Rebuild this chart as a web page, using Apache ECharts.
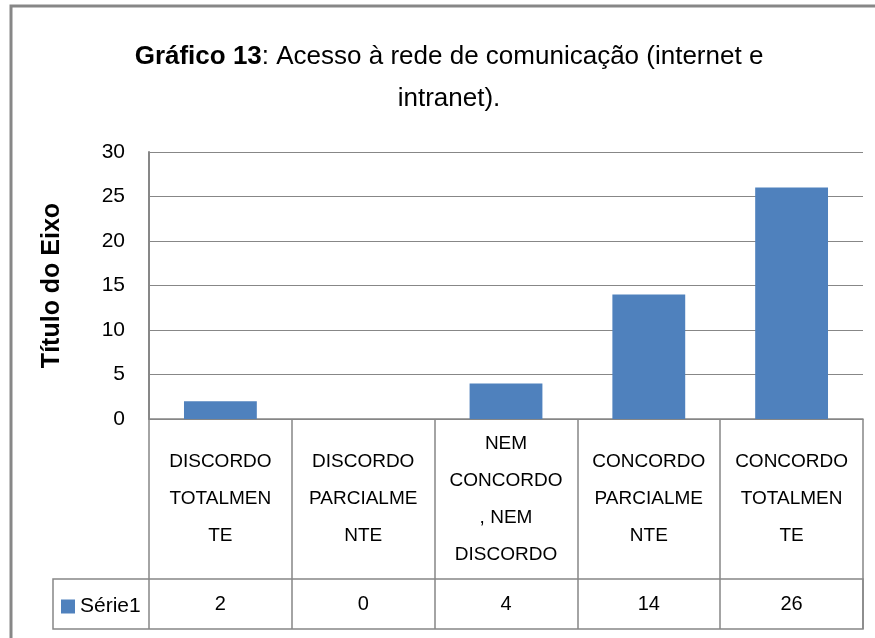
<!DOCTYPE html>
<html>
<head>
<meta charset="utf-8">
<script src="https://cdn.jsdelivr.net/npm/echarts@6/dist/echarts.min.js"></script>
<style>
  html, body { margin: 0; padding: 0; background: #fff; }
  #chart { width: 875px; height: 638px; }
</style>
</head>
<body>
<div id="chart"></div>
<script>
// dados do gráfico
const categorias = [
  'DISCORDO\nTOTALMEN\nTE',
  'DISCORDO\nPARCIALME\nNTE',
  'NEM\nCONCORDO\n, NEM\nDISCORDO',
  'CONCORDO\nPARCIALME\nNTE',
  'CONCORDO\nTOTALMEN\nTE'
];
const serie1 = [2, 0, 4, 14, 26];
const yTicks = { min: 0, max: 30, interval: 5 };

const cinza = '#878787';
const fonte = "'Liberation Sans', Arial, sans-serif";

let myChart = echarts.init(document.getElementById('chart'));

let option = {
  backgroundColor: '#fff',
  animation: false,
  textStyle: { fontFamily: fonte, color: '#000' },
  title: {
    left: 449,
    top: 36,
    padding: 0,
    textAlign: 'center',
    text: '{b|Gráfico 13}{n|: Acesso à rede de comunicação (internet e}\n{n|intranet).}',
    textStyle: {
      fontWeight: 'normal',
      rich: {
        b: { fontFamily: fonte, fontSize: 26, fontWeight: 'bold', color: '#000', lineHeight: 42 },
        n: { fontFamily: fonte, fontSize: 26, fontWeight: 'normal', color: '#000', lineHeight: 42 }
      }
    }
  },
  legend: {
    left: 56,
    top: 591,
    icon: 'rect',
    itemWidth: 14,
    itemHeight: 14,
    textStyle: { fontFamily: fonte, fontSize: 21, color: '#000' },
    data: ['Série1']
  },
  grid: {
    left: 149,
    right: 12,
    top: 152,
    bottom: 219
  },
  xAxis: [
    {
      type: 'category',
      data: categorias,
      position: 'bottom',
      axisLine: { show: true, lineStyle: { color: cinza, width: 1.5 } },
      axisTick: { show: true, length: 210, lineStyle: { color: cinza, width: 1.5 } },
      axisLabel: {
        interval: 0,
        margin: 80,
        verticalAlign: 'middle',
        fontFamily: fonte,
        fontSize: 19,
        lineHeight: 37,
        color: '#000'
      }
    },
    {
      type: 'category',
      data: serie1.map(v => String(v)),
      position: 'bottom',
      axisLine: { show: false },
      axisTick: { show: false },
      axisLabel: {
        interval: 0,
        margin: 185,
        verticalAlign: 'middle',
        fontFamily: fonte,
        fontSize: 20,
        color: '#000'
      }
    }
  ],
  yAxis: {
    type: 'value',
    min: yTicks.min,
    max: yTicks.max,
    interval: yTicks.interval,
    name: 'Título do Eixo',
    nameLocation: 'middle',
    nameRotate: 90,
    nameGap: 84,
    nameTextStyle: { fontFamily: fonte, fontSize: 25, fontWeight: 'bold', color: '#000' },
    axisLine: { show: true, lineStyle: { color: cinza, width: 2 } },
    axisTick: { show: false },
    axisLabel: { margin: 24, fontFamily: fonte, fontSize: 21, color: '#000' },
    splitLine: { show: true, lineStyle: { color: cinza, width: 1 } }
  },
  series: [
    {
      name: 'Série1',
      type: 'bar',
      xAxisIndex: 0,
      data: serie1,
      barWidth: '51%',
      itemStyle: { color: '#4F81BD' }
    }
  ],
  graphic: [
    // moldura externa do gráfico
    {
      type: 'rect',
      shape: { x: 11, y: 6, width: 900, height: 700 },
      style: { fill: 'none', stroke: cinza, lineWidth: 3 },
      silent: true
    },
    // linha da série na tabela de dados
    {
      type: 'rect',
      shape: { x: 53, y: 579, width: 810, height: 50 },
      style: { fill: 'none', stroke: cinza, lineWidth: 1.5 },
      silent: true
    }
  ]
};

myChart.setOption(option);
</script>
</body>
</html>
